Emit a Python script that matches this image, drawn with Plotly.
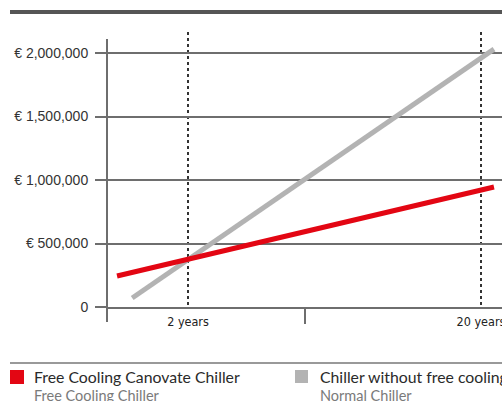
import plotly.graph_objects as go

# ---- data ----
years_free = [1.145, 22.15]
cost_free = [244000, 945000]
years_normal = [1.29, 22.15]
cost_normal = [71000, 2031000]

y_tickvals = [0, 500000, 1000000, 1500000, 2000000]
y_ticktext = ["0", "€ 500,000", "€ 1,000,000", "€ 1,500,000", "€ 2,000,000"]
x_tickvals = [2, 20]
x_ticktext = ["2 years", "20 years"]
x_minor_ticks = [5]

legend_main = ["Free Cooling Canovate Chiller", "Chiller without free cooling"]
legend_sub = ["Free Cooling Chiller", "Normal Chiller"]
RED = "#e30613"
GRAY = "#b3b3b3"
AX = "#6e6e6e"

W, H = 502, 401
L, R = 107, 0
T = 32
PLOT_BOTTOM = 307
B = H - PLOT_BOTTOM
PW, PH = W - L - R, H - T - B


def px(x):
    return (x - L) / PW


def py(y):
    return (PLOT_BOTTOM - y) / PH


fig = go.Figure()
fig.add_trace(go.Scatter(x=years_normal, y=cost_normal, mode="lines",
                         line=dict(color=GRAY, width=5), showlegend=False))
fig.add_trace(go.Scatter(x=years_free, y=cost_free, mode="lines",
                         line=dict(color=RED, width=5), showlegend=False))

shapes = [
    # top rule
    dict(type="line", xref="paper", yref="paper", x0=px(10), x1=1, y0=py(12), y1=py(12),
         line=dict(color="#555555", width=4)),
    # y axis line (extends below the x axis)
    dict(type="line", xref="paper", yref="paper", x0=0, x1=0, y0=py(322), y1=py(39),
         line=dict(color=AX, width=2)),
    # legend rule
    dict(type="line", xref="paper", yref="paper", x0=px(10), x1=1, y0=py(363), y1=py(363),
         line=dict(color="#777777", width=1.5)),
    # legend swatches
    dict(type="rect", xref="paper", yref="paper", x0=px(10), x1=px(24), y0=py(384), y1=py(370),
         fillcolor=RED, line=dict(width=0)),
    dict(type="rect", xref="paper", yref="paper", x0=px(295), x1=px(308), y0=py(383), y1=py(370),
         fillcolor=GRAY, line=dict(width=0)),
]

LEG_FONT = "Lato, Open Sans, sans-serif"
annotations = []
for xpix, main, sub in zip([32, 318], legend_main, legend_sub):
    annotations.append(dict(xref="paper", yref="paper", x=px(xpix), y=py(376), text=main,
                            showarrow=False, xanchor="left", yanchor="middle",
                            font=dict(family=LEG_FONT, size=15.8, color="#2a2a2a")))
    annotations.append(dict(xref="paper", yref="paper", x=px(xpix), y=py(395), text=sub,
                            showarrow=False, xanchor="left", yanchor="middle",
                            font=dict(family=LEG_FONT, size=14.5, color="#7a7a7a")))

fig.update_layout(
    width=W, height=H,
    margin=dict(l=L, r=R, t=T, b=B, pad=0, autoexpand=False),
    paper_bgcolor="white", plot_bgcolor="white",
    shapes=shapes, annotations=annotations,
    xaxis=dict(
        type="log", range=[0.0246, 1.3727], automargin=False,
        tickmode="array", tickvals=x_tickvals, ticktext=x_ticktext,
        ticks="", showgrid=True, gridcolor="#333333", gridwidth=1.5, griddash="dot",
        showline=True, linecolor=AX, linewidth=2, zeroline=False,
        tickfont=dict(family="Liberation Sans Narrow, DejaVu Sans Condensed, Liberation Sans",
                      size=12.5, color="#222222"),
        ticklabelstandoff=2, ticklabeloverflow="allow",
        minor=dict(tickmode="array", tickvals=x_minor_ticks, ticks="outside", ticklen=15,
                   tickwidth=2, tickcolor=AX, showgrid=False),
        fixedrange=True,
    ),
    yaxis=dict(
        range=[0, 2165400], automargin=False,
        tickmode="array", tickvals=y_tickvals, ticktext=y_ticktext,
        ticks="outside", ticklen=11, tickwidth=2, tickcolor=AX,
        showgrid=True, gridcolor=AX, gridwidth=2,
        showline=False, zeroline=False,
        tickfont=dict(family="Liberation Sans, Arial, sans-serif", size=14, color="#333333"),
        ticklabelstandoff=4,
        fixedrange=True,
    ),
)

fig.write_html(
    "out.html",
    config={"displayModeBar": False},
    post_script="document.body.style.margin='0px';"
                "document.documentElement.style.overflow='hidden';"
                "document.body.style.overflow='hidden';",
)
